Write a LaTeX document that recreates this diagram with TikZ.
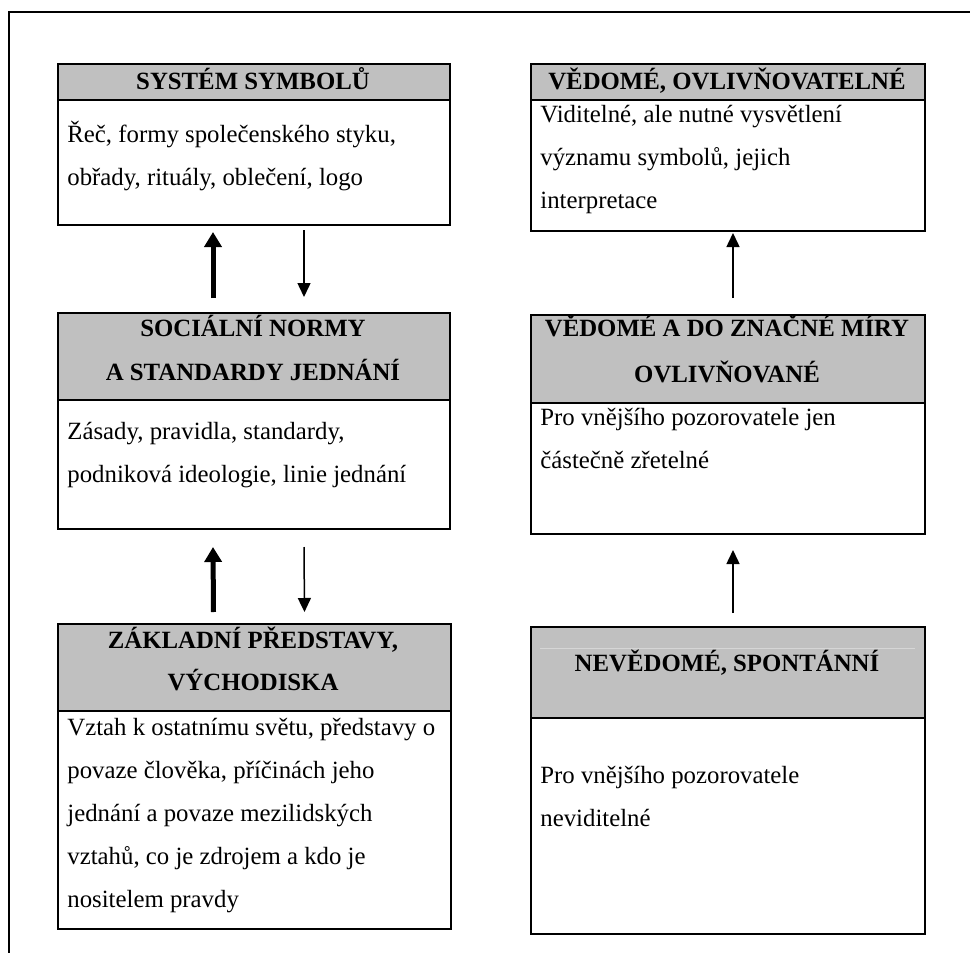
\documentclass[tikz,border=0pt]{standalone}
\usepackage{fontspec}
\setmainfont{Liberation Serif}
\usetikzlibrary{arrows.meta}
\definecolor{hdrgray}{HTML}{C0C0C0}
\definecolor{faint}{HTML}{D6D6D6}
\tikzset{
  frameline/.style={line width=0.8pt, black},
  boxframe/.style={draw=black, line width=1pt, fill=white, inner sep=0pt, anchor=north west},
  hdrbox/.style={draw=black, line width=1pt, fill=hdrgray, inner sep=0pt, anchor=north west},
  hdrtext/.style={font=\fontsize{12.4}{21.5}\selectfont\bfseries, inner sep=0pt, anchor=base},
  bodytext/.style={font=\fontsize{12.4}{21.5}\selectfont, inner sep=0pt, anchor=north west, align=left},
  thickarrow/.style={line width=2.5pt, -{Triangle[length=7.5pt,width=8.5pt]}},
  thinarrow/.style={line width=0.75pt, -{Triangle[length=7pt,width=6.5pt]}},
}
\newcommand{\fs}{\rule{0pt}{15pt}}
\begin{document}
\begin{tikzpicture}[x=0.5pt,y=-0.5pt]
\useasboundingbox (0,0) rectangle (970,953);
% outer frame
\draw[frameline] (9,953) -- (9,12) -- (970,12);

% left column boxes
\node[boxframe, minimum width=196pt, minimum height=80.5pt] (L1) at (57,63) {};
\node[hdrbox, minimum width=196pt, minimum height=18pt] (L1h) at (57,63) {};
\node[hdrtext] (L1t) at (253,89) {SYSTÉM SYMBOLŮ};
\node[bodytext] (L1b) at (67,112) {\fs Řeč, formy společenského styku,\\obřady, rituály, oblečení, logo};

\node[boxframe, minimum width=196pt, minimum height=108pt] (L2) at (57,312) {};
\node[hdrbox, minimum width=196pt, minimum height=43.5pt] (L2h) at (57,312) {};
\node[hdrtext] (L2t1) at (253,336) {SOCIÁLNÍ NORMY};
\node[hdrtext] (L2t2) at (253,380) {A STANDARDY JEDNÁNÍ};
\node[bodytext] (L2b) at (67,409) {\fs Zásady, pravidla, standardy,\\podniková ideologie, linie jednání};

\node[boxframe, minimum width=196.5pt, minimum height=152.5pt] (L3) at (57,623) {};
\node[hdrbox, minimum width=196.5pt, minimum height=43.5pt] (L3h) at (57,623) {};
\node[hdrtext] (L3t1) at (253,648) {ZÁKLADNÍ PŘEDSTAVY,};
\node[hdrtext] (L3t2) at (253,690) {VÝCHODISKA};
\node[bodytext] (L3b) at (67,705) {\fs Vztah k ostatnímu světu, představy o\\povaze člověka, příčinách jeho\\jednání a povaze mezilidských\\vztahů, co je zdrojem a kdo je\\nositelem pravdy};

% right column boxes
\node[boxframe, minimum width=197pt, minimum height=83.5pt] (R1) at (530,63) {};
\node[hdrbox, minimum width=197pt, minimum height=18pt] (R1h) at (530,63) {};
\node[hdrtext] (R1t) at (727,89) {VĚDOMÉ, OVLIVŇOVATELNÉ};
\node[bodytext] (R1b) at (540,92) {\fs Viditelné, ale nutné vysvětlení\\významu symbolů, jejich\\interpretace};

\node[boxframe, minimum width=197pt, minimum height=109.5pt] (R2) at (530,314) {};
\node[hdrbox, minimum width=197pt, minimum height=44pt] (R2h) at (530,314) {};
\node[hdrtext] (R2t1) at (727,336) {VĚDOMÉ A DO ZNAČNÉ MÍRY};
\node[hdrtext] (R2t2) at (727,382) {OVLIVŇOVANÉ};
\node[bodytext] (R2b) at (540,395) {\fs Pro vnějšího pozorovatele jen\\částečně zřetelné};

\node[boxframe, minimum width=197pt, minimum height=153.5pt] (R3) at (530,626) {};
\node[hdrbox, minimum width=197pt, minimum height=45.5pt] (R3h) at (530,626) {};
\draw[faint, line width=0.4pt] (540,648) -- (915,648);
\node[hdrtext] (R3t) at (727,671) {NEVĚDOMÉ, SPONTÁNNÍ};
\node[bodytext] (R3b) at (540,753) {\fs Pro vnějšího pozorovatele\\neviditelné};

% arrows left column
\draw[thickarrow] ([shift={(-20.5pt,7pt)}]L2.north) -- ([shift={(-20.5pt,-3pt)}]L1.south);
\draw[thinarrow] ([shift={(25pt,-2pt)}]L1.south) -- ([shift={(25pt,7.5pt)}]L2.north);
\draw[thickarrow] ([shift={(-20.5pt,5.5pt)}]L3.north) -- ([shift={(-20.5pt,-8.5pt)}]L2.south);
\draw[thinarrow] ([shift={(25pt,-8.5pt)}]L2.south) -- ([shift={(25pt,5.5pt)}]L3.north);

% arrows right column
\draw[thinarrow] ([shift={(2.5pt,8pt)}]R2.north) -- ([shift={(2.5pt,-0.5pt)}]R1.south);
\draw[thinarrow] ([shift={(2.5pt,6.5pt)}]R3.north) -- ([shift={(2.5pt,-7.5pt)}]R2.south);
\end{tikzpicture}
\end{document}
